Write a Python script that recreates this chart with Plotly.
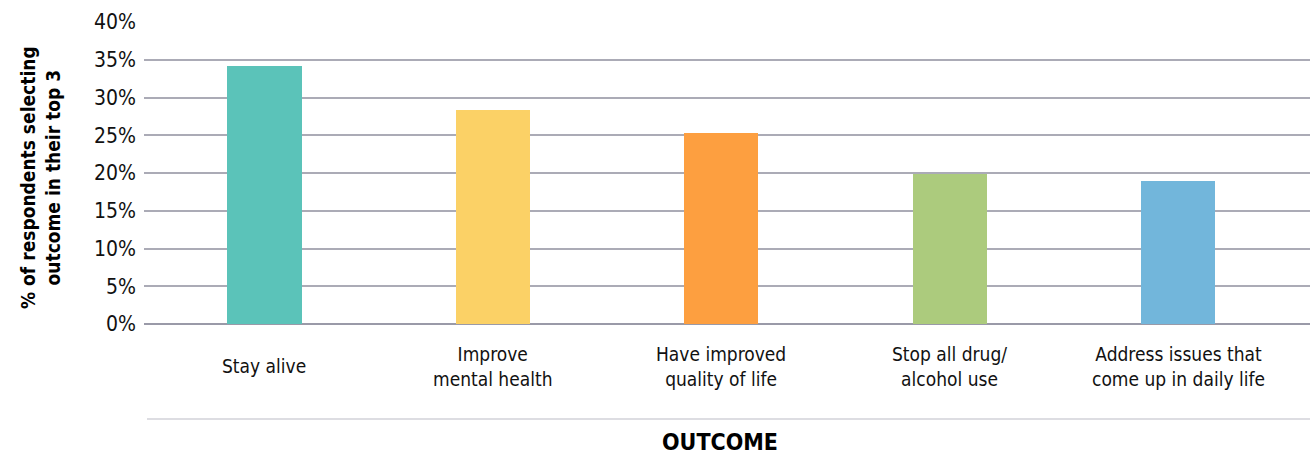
import plotly.graph_objects as go

categories = ["Stay alive", "Improve<br>mental health", "Have improved<br>quality of life",
              "Stop all drug/<br>alcohol use", "Address issues that<br>come up in daily life"]
values = [34.2, 28.3, 25.3, 19.9, 18.9]
colors = ["#5bc3b9", "#fbd166", "#fd9f40", "#accb7d", "#72b6db"]
y_ticks = [0, 5, 10, 15, 20, 25, 30, 35, 40]
y_tick_labels = [f"{v}%" for v in y_ticks]

FONT = "Liberation Sans Narrow, DejaVu Sans Condensed, Roboto, sans-serif"

fig = go.Figure()
fig.add_trace(go.Bar(
    x=list(range(len(categories))), y=values,
    marker=dict(color=colors, line=dict(width=0)),
    width=0.325, hoverinfo="skip",
))

W, H = 1310, 457
L, R, T, B = 144, 0, 22, 133
plot_h = H - T - B

fig.update_layout(
    width=W, height=H,
    margin=dict(l=L, r=R, t=T, b=B, pad=0),
    paper_bgcolor="white", plot_bgcolor="white",
    showlegend=False,
    font=dict(family=FONT, color="#111111"),
    bargap=0,
    xaxis=dict(
        range=[-0.5276, 4.578],
        showticklabels=False,
        showgrid=False, zeroline=False, showline=False, ticks="",
        fixedrange=True,
    ),
    yaxis=dict(
        range=[0, 40],
        tickmode="array", tickvals=y_ticks, ticktext=y_tick_labels,
        tickfont=dict(size=21, family=FONT, color="#111111"),
        showgrid=True, gridcolor="#ababb6", gridwidth=1.5,
        zeroline=True, zerolinecolor="#9a9aa8", zerolinewidth=1.5,
        showline=False, ticks="", ticklabelstandoff=7,
        fixedrange=True,
    ),
)

# category labels, vertically centred below the axis
for i, cat in enumerate(categories):
    fig.add_annotation(text=cat, xref="x", yref="paper", x=i,
                       y=-(366 - 324) / plot_h,
                       showarrow=False, xanchor="center", yanchor="middle",
                       align="center",
                       font=dict(size=19, family=FONT, color="#111111"))

fig.add_shape(type="line", xref="paper", yref="paper",
              x0=(147 - L) / (W - L - R), x1=1.0,
              y0=-(419 - 324) / plot_h, y1=-(419 - 324) / plot_h,
              line=dict(color="#d2d2d8", width=1.5))

fig.add_annotation(text="<b>OUTCOME</b>", xref="paper", yref="paper",
                   x=(720 - L) / (W - L - R), y=-(442 - 324) / plot_h,
                   showarrow=False, xanchor="center", yanchor="middle",
                   font=dict(size=23, family=FONT, color="#000000"))

fig.add_annotation(text="<b>% of respondents selecting<br>outcome in their top 3</b>",
                   xref="paper", yref="paper",
                   x=-(L - 40) / (W - L - R), y=0.5 - (178 - 173) / plot_h,
                   textangle=-90, showarrow=False, xanchor="center", yanchor="middle",
                   font=dict(size=19, family=FONT, color="#000000"))

fig.write_html("out.html")
